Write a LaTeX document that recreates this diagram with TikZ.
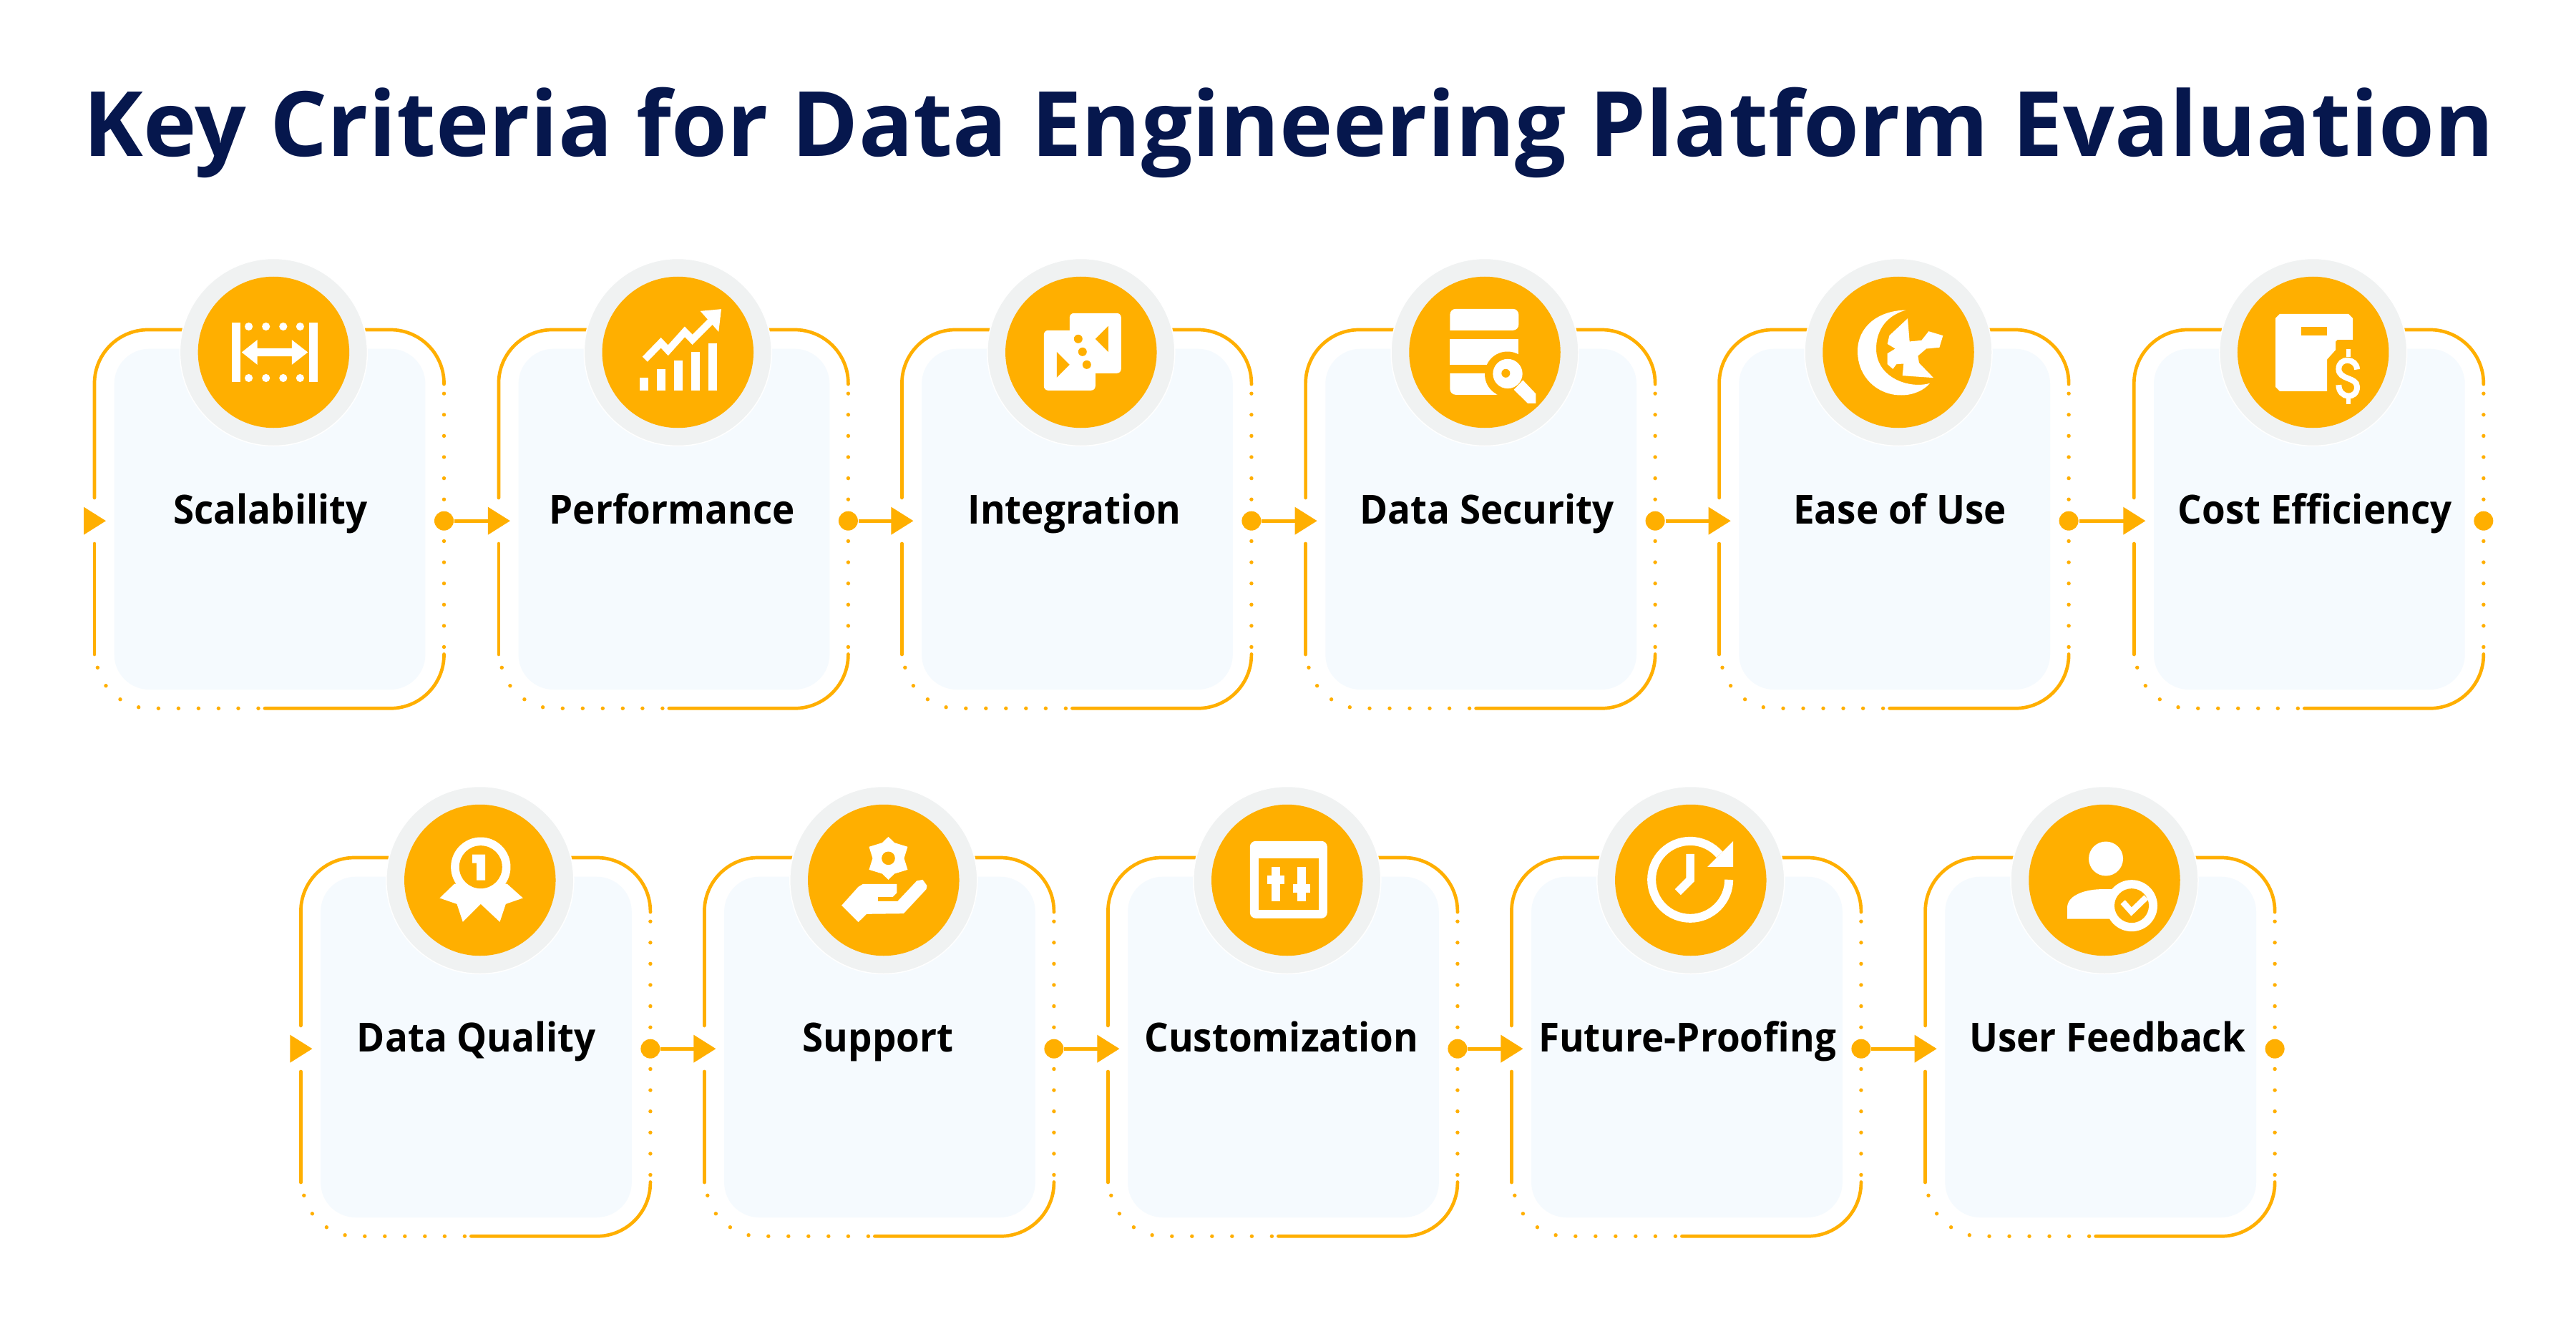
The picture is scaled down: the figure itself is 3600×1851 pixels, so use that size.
\documentclass[tikz,border=0pt]{standalone}
\usepackage{fontspec}
\setmainfont{Open Sans}
\newfontfamily\titlefont[LetterSpace=0.25]{Open Sans}
\newfontfamily\labfont[FakeStretch=0.945]{Open Sans}
\definecolor{amber}{HTML}{FFAF00}
\definecolor{ringgrey}{HTML}{F0F2F2}
\definecolor{panelblue}{HTML}{F5FAFE}
\definecolor{navy}{HTML}{06174D}
\tikzset{
  x=0.2pt,y=-0.2pt,
  solidline/.style={draw=amber,line width=0.94pt,line cap=round},
  conn/.style={draw=amber,line width=0.94pt},
  lab/.style={font=\labfont\bfseries\fontsize{11.2pt}{13pt}\selectfont,text=black,inner sep=0pt,anchor=base},
  bigdot/.style={circle,fill=amber,inner sep=0pt,minimum size=5.4pt},
  ringnode/.style={circle,fill=ringgrey,draw=white,line width=0.3pt,inner sep=0pt,minimum size=52.4pt},
  discnode/.style={circle,fill=amber,inner sep=0pt,minimum size=42.3pt},
  panelnode/.style={rectangle,rounded corners=9.8pt,fill=panelblue,inner sep=0pt,minimum width=86.94pt,minimum height=95.26pt},
  ic/.style={fill=white,draw=none},
  ico/.style={fill=amber,draw=none},
  ics/.style={draw=white,fill=none},
}
\newcommand{\iconA}{%
  \fill[ic] (-58.5,-41.8) rectangle (-46.4,41.8);
  \fill[ic] (49.5,-41.8) rectangle (61.6,41.8);
  \foreach \dx in {-34.8,-10.7,13.4,37}{
    \fill[ic] (\dx,-36) circle[radius=5.6];
    \fill[ic] (\dx,36) circle[radius=5.6];
  }
  \fill[ic] (-44.6,0) -- (-22.8,-17.4) -- (-22.8,-5.7) -- (25.4,-5.7) -- (25.4,-17.4) -- (47.8,0)
    -- (25.4,17.4) -- (25.4,5.7) -- (-22.8,5.7) -- (-22.8,17.4) -- cycle;
}
\newcommand{\iconB}{%
  \begin{scope}[scale=0.33333,shift={(-501,-458)}]
  \foreach \xa/\ya in {342/564,414/528,486/492,558/456,630/420}{
    \fill[ic] (\xa,\ya) rectangle ({\xa+36},618);
  }
  \draw[ics,line width=2pt,line join=miter] (363,487) -- (430,418) -- (460,450) -- (530,372) -- (562,405) -- (640,327);
  \fill[ic] (595,285) -- (683,277) -- (672,372) -- cycle;
  \end{scope}
}
\newcommand{\iconC}{%
  \begin{scope}[scale=0.33333,shift={(-510,-458)}]
  \fill[ic,rounded corners=1.2pt] (354,366) rectangle (570,618);
  \fill[ic,rounded corners=1.2pt] (462,294) rectangle (678,546);
  \fill[ico] (408,456) -- (462,510) -- (408,564) -- cycle;
  \fill[ico] (624,348) -- (570,402) -- (624,456) -- cycle;
  \foreach \xa/\ya in {498/402,516/456,534/510}{\fill[ico] (\xa,\ya) circle[radius=18];}
  \end{scope}
}
\newcommand{\iconD}{%
  \begin{scope}[scale=0.33333,shift={(-530,-458)}]
  \fill[ic,rounded corners=1.6pt] (384,366) -- (384,276) -- (672,276) -- (672,366) [sharp corners] -- cycle;
  \fill[ic] (384,402) rectangle (672,510);
  \fill[ic,rounded corners=1.6pt] (384,546) -- (384,636) -- (600,636) -- (600,546) [sharp corners] -- cycle;
  \fill[ico] (625,550) circle[radius=95];
  \fill[ic] (626,548) circle[radius=62];
  \fill[ic] (652,615) -- (690,575) -- (744,632) -- (744,672) -- (710,672) -- cycle;
  \fill[ico] (618,546) circle[radius=18];
  \end{scope}
}
\newcommand{\iconE}{%
  \begin{scope}[scale=0.33333,shift={(-518,-455)}]
  \fill[ic] (550,278) .. controls (430,280) and (347,350) .. (347,450)
    .. controls (347,560) and (430,635) .. (530,635)
    .. controls (580,635) and (625,615) .. (650,585)
    .. controls (560,610) and (425,560) .. (425,440)
    .. controls (425,360) and (470,300) .. (550,278) -- cycle;
  \fill[ic] (557,313) -- (565,410) -- (615,405) -- (645,367) -- (705,385) -- (690,435) -- (635,440)
    -- (600,470) -- (605,500) -- (665,562) -- (535,553) -- (540,503) -- (510,505) -- (495,525)
    -- (472,505) -- (472,460) -- (505,440) -- (472,420) -- (480,385) -- cycle;
  \end{scope}
}
\newcommand{\iconF}{%
  \begin{scope}[scale=0.33333,shift={(-518,-455)}]
  \fill[ic] (378,294) -- (666,294) -- (684,312) -- (684,402) -- (620,402) -- (612,410) -- (612,445)
    -- (576,485) -- (576,618) -- (378,618) -- (360,600) -- (360,312) -- cycle;
  \fill[ico] (468,348) rectangle (576,384);
  \draw[ics,line width=1.6pt] (702,527) .. controls (700,478) and (625,475) .. (625,525)
    .. controls (625,572) and (702,558) .. (702,600)
    .. controls (702,655) and (625,650) .. (625,592);
  \fill[ic] (657,440) rectangle (675,475);
  \fill[ic] (657,640) rectangle (675,672);
  \end{scope}
}
\newcommand{\iconG}{%
  \begin{scope}[scale=0.33333,shift={(-512,-450)}]
  \fill[ic] (405,465) -- (343,525) -- (415,550) -- (440,625) -- (515,550) -- (595,625) -- (620,550) -- (692,525) -- (625,465) -- cycle;
  \fill[ic] (515,395) circle[radius=125];
  \fill[ico] (515,395) circle[radius=90];
  \fill[ic] (480,342) -- (534,342) -- (534,450) -- (498,450) -- (498,378) -- (480,378) -- cycle;
  \end{scope}
}
\newcommand{\iconH}{%
  \begin{scope}[scale=0.33333,shift={(-526,-452)}]
  \fill[ic] (546,270) -- (572,295) -- (627,312) -- (612,360) -- (627,408) -- (572,425) -- (546,450)
    -- (520,425) -- (465,408) -- (480,360) -- (465,312) -- (520,295) -- cycle;
  \fill[ico] (546,360) circle[radius=28];
  \fill[ic] (440,468) -- (582,468) -- (582,505) -- (565,522) -- (502,522) -- (502,540) -- (585,540)
    -- (665,455) -- (690,450) -- (708,475) -- (705,490) -- (610,592) -- (455,594) -- (420,628) -- (350,558) -- (420,480) -- cycle;
  \end{scope}
}
\newcommand{\iconI}{%
  \begin{scope}[scale=0.33333,shift={(-534,-452)}]
  \fill[ic,rounded corners=1.6pt] (378,288) rectangle (702,612);
  \fill[ico] (414,360) rectangle (666,576);
  \fill[ic] (468,396) rectangle (504,540);
  \fill[ic] (450,432) rectangle (522,468);
  \fill[ic] (576,396) rectangle (612,540);
  \fill[ic] (558,468) rectangle (630,504);
  \end{scope}
}
\newcommand{\iconJ}{%
  \begin{scope}[scale=0.33333,shift={(-554,-452)}]
  \draw[ics,line width=2.4pt] (714,450) .. controls (714,539.5) and (641.5,612) .. (552,612)
    .. controls (462.5,612) and (390,539.5) .. (390,450)
    .. controls (390,360.5) and (462.5,288) .. (552,288)
    .. controls (600,288) and (645,310) .. (675,345);
  \fill[ic] (732,288) -- (732,396) -- (624,396) -- cycle;
  \draw[ics,line width=2.3pt,line join=miter] (552,342) -- (552,450) -- (500,502);
  \end{scope}
}
\newcommand{\iconK}{%
  \begin{scope}[scale=0.33333,shift={(-543,-450)}]
  \fill[ic] (549,360) circle[radius=72];
  \fill[ic] (387,612) -- (387,565) .. controls (387,510) and (470,488) .. (530,488) -- (620,488) -- (620,612) -- cycle;
  \fill[ic] (657,557) circle[radius=108];
  \fill[ico] (657,557) circle[radius=72];
  \draw[ics,line width=1.7pt,line join=miter] (620,542) -- (656,582) -- (718,522);
  \end{scope}
}
% #1 id, #2 left, #3 top, #4 label centre x, #5 label, #6 icon
\newcommand{\card}[6]{%
  \begin{scope}[shift={(#2,#3)}]
    \draw[solidline,rounded corners=15pt] (0,235) -- (0,0) -- (488.5,0) -- (488.5,76.2);
    \draw[solidline,rounded corners=15pt] (488.5,453.5) -- (488.5,529.3) -- (238,529.3);
    \draw[solidline] (0,299) -- (0,454);
    \foreach \yy in {89.2,118.8,148.4,178,207.6,237.2,295.5,325.1,354.7,384.3,413.9,443.5}{
      \fill[amber] (488.5,\yy) circle[radius=2.7];
    }
    \foreach \xa/\ya in {229/529.3,201/529.3,173.4/529.3,145.4/529.3,117.4/529.3,89.4/529.3,61.7/527.7,36/516.7,16/497.7,4.4/472.3}{
      \fill[amber] (\xa,\ya) circle[radius=2.7];
    }
    \node[panelnode] (p#1) at (245.05,264.85) {};
    \fill[amber] (-15,247.7) -- (16,267.2) -- (-15,286.7) -- cycle;
    \coordinate (t#1) at (0,267.2);
    \node[bigdot] (d#1) at (488.5,267.2) {};
    \node[ringnode] (r#1) at (250.4,31.5) {};
    \node[discnode] (c#1) at (250.4,31.5) {};
    \begin{scope}[shift={(c#1)}]#6\end{scope}
  \end{scope}
  \node[lab] (l#1) at (#4,{#3+271.7}) {#5};
}
\begin{document}
\begin{tikzpicture}
  \useasboundingbox (0,0) rectangle (3600,1851);
  \fill[white] (0,0) rectangle (3600,1851);
  \node[font=\titlefont\bfseries\fontsize{25.2pt}{30pt}\selectfont,text=navy,inner sep=0pt,anchor=base] (title) at (1801,219) {Key Criteria for Data Engineering Platform Evaluation};
  \card{1}{132}{461}{378}{Scalability}{\iconA}
  \card{2}{696.9}{461}{939}{Performance}{\iconB}
  \card{3}{1260.4}{461}{1501.6}{Integration}{\iconC}
  \card{4}{1824.6}{461}{2078}{Data Security}{\iconD}
  \card{5}{2402.6}{461}{2655}{Ease of Use}{\iconE}
  \card{6}{2982.3}{461}{3235}{Cost Efficiency}{\iconF}
  \card{7}{420.4}{1199}{666}{Data Quality}{\iconG}
  \card{8}{984.4}{1199}{1227}{Support}{\iconH}
  \card{9}{1548.4}{1199}{1791}{Customization}{\iconI}
  \card{10}{2112.4}{1199}{2358}{Future-Proofing}{\iconJ}
  \card{11}{2690.6}{1199}{2945}{User Feedback}{\iconK}
  \foreach \aa/\bb in {1/2,2/3,3/4,4/5,5/6,7/8,8/9,9/10,10/11}{
    \draw[conn] (d\aa) -- (t\bb);
  }
\end{tikzpicture}
\end{document}
